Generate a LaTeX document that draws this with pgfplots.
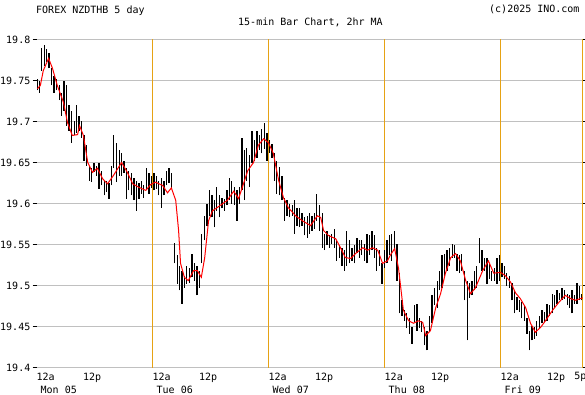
\documentclass[border=0pt]{standalone}
\usepackage{pgfplots}
\pgfplotsset{compat=1.18}
\usepackage{pgfplotstable}
\usepackage{fontspec}
\setmainfont{DejaVu Sans Mono}
\definecolor{gridgray}{RGB}{192,192,192}
\definecolor{dayorange}{RGB}{230,162,20}
\definecolor{mared}{RGB}{255,0,0}

\pgfplotstableread{
h lo hi
0.2 19.738 19.752
0.6 19.735 19.750
1.1 19.762 19.790
1.7 19.768 19.793
2.1 19.772 19.788
2.6 19.765 19.784
3.1 19.744 19.765
3.6 19.735 19.756
4.1 19.738 19.752
4.7 19.726 19.744
5.2 19.707 19.735
5.7 19.713 19.750
6.2 19.695 19.744
6.7 19.689 19.720
7.2 19.674 19.713
7.8 19.683 19.701
8.3 19.686 19.720
8.8 19.689 19.707
9.3 19.680 19.701
9.8 19.652 19.683
10.3 19.646 19.671
10.9 19.628 19.646
11.4 19.626 19.643
11.9 19.638 19.650
12.4 19.634 19.646
12.9 19.618 19.650
13.4 19.622 19.640
14.0 19.610 19.628
14.5 19.614 19.628
15.0 19.606 19.625
15.5 19.622 19.646
16.0 19.643 19.683
16.6 19.626 19.674
17.1 19.634 19.665
17.6 19.634 19.662
18.1 19.637 19.652
18.6 19.606 19.643
19.1 19.616 19.640
19.7 19.610 19.637
20.2 19.604 19.631
20.7 19.591 19.628
21.2 19.606 19.625
21.7 19.612 19.628
22.2 19.607 19.622
22.8 19.616 19.643
23.3 19.612 19.637
23.8 19.619 19.634
24.3 19.616 19.637
24.8 19.618 19.633
25.3 19.610 19.628
25.9 19.595 19.631
26.4 19.610 19.628
26.9 19.622 19.640
27.4 19.625 19.643
27.9 19.619 19.637
28.6 19.527 19.552
29.1 19.502 19.537
29.6 19.494 19.524
30.1 19.478 19.518
30.6 19.497 19.512
31.1 19.502 19.524
31.7 19.503 19.521
32.2 19.510 19.539
32.7 19.506 19.528
33.2 19.488 19.524
33.7 19.497 19.518
34.2 19.527 19.563
34.8 19.555 19.585
35.3 19.573 19.600
35.8 19.585 19.616
36.3 19.583 19.610
36.8 19.571 19.604
37.3 19.591 19.620
37.9 19.583 19.610
38.4 19.594 19.607
38.9 19.591 19.606
39.4 19.598 19.616
39.9 19.604 19.631
40.4 19.600 19.628
40.9 19.598 19.620
41.5 19.579 19.616
42.0 19.600 19.620
42.5 19.616 19.680
43.0 19.604 19.665
43.5 19.628 19.668
44.0 19.620 19.659
44.6 19.649 19.689
45.1 19.652 19.677
45.6 19.656 19.689
46.1 19.665 19.683
46.6 19.661 19.691
47.2 19.667 19.698
47.7 19.652 19.686
48.2 19.662 19.677
48.7 19.656 19.673
49.2 19.628 19.661
49.7 19.612 19.652
50.3 19.610 19.644
50.8 19.604 19.634
51.3 19.579 19.607
51.8 19.585 19.604
52.3 19.583 19.600
52.9 19.585 19.598
53.4 19.563 19.604
53.9 19.573 19.595
54.4 19.571 19.595
54.9 19.573 19.589
55.4 19.561 19.583
56.0 19.558 19.585
56.5 19.563 19.588
57.0 19.567 19.585
57.5 19.569 19.588
58.0 19.579 19.612
58.5 19.567 19.598
59.1 19.546 19.588
59.6 19.543 19.563
60.1 19.549 19.567
60.6 19.546 19.561
61.1 19.551 19.563
61.6 19.546 19.569
62.1 19.530 19.555
62.7 19.534 19.549
63.2 19.524 19.546
63.7 19.518 19.543
64.2 19.524 19.567
64.8 19.527 19.555
65.3 19.530 19.546
65.8 19.527 19.549
66.3 19.540 19.558
66.8 19.534 19.555
67.3 19.537 19.555
67.9 19.530 19.551
68.4 19.527 19.563
68.9 19.537 19.561
69.4 19.543 19.567
69.9 19.534 19.561
70.4 19.518 19.546
70.9 19.524 19.543
71.5 19.502 19.527
72.0 19.521 19.543
72.5 19.527 19.555
73.0 19.537 19.561
73.5 19.530 19.563
74.0 19.543 19.567
74.6 19.506 19.551
75.1 19.466 19.515
75.6 19.463 19.482
76.1 19.457 19.470
76.6 19.448 19.466
77.1 19.441 19.460
77.7 19.429 19.449
78.2 19.455 19.476
78.7 19.445 19.478
79.2 19.448 19.460
79.7 19.443 19.457
80.3 19.427 19.449
80.8 19.421 19.445
81.3 19.445 19.463
81.8 19.454 19.488
82.3 19.476 19.497
82.9 19.473 19.506
83.4 19.494 19.518
83.9 19.497 19.537
84.4 19.512 19.539
84.9 19.518 19.543
85.4 19.524 19.546
86.0 19.534 19.551
86.5 19.534 19.549
87.0 19.518 19.539
87.5 19.515 19.537
88.0 19.518 19.539
88.6 19.482 19.518
89.1 19.433 19.506
89.6 19.485 19.503
90.1 19.488 19.506
90.6 19.494 19.518
91.1 19.497 19.524
91.7 19.527 19.558
92.2 19.518 19.543
92.7 19.518 19.534
93.2 19.502 19.534
93.7 19.508 19.527
94.2 19.506 19.518
94.8 19.506 19.521
95.3 19.502 19.534
95.8 19.506 19.537
96.3 19.510 19.527
96.8 19.508 19.524
97.3 19.500 19.515
97.9 19.497 19.512
98.4 19.482 19.503
98.9 19.466 19.494
99.4 19.470 19.486
99.9 19.468 19.482
100.4 19.460 19.480
101.0 19.457 19.476
101.5 19.441 19.460
102.0 19.421 19.445
102.5 19.433 19.451
103.0 19.435 19.449
103.5 19.439 19.457
104.1 19.448 19.463
104.6 19.454 19.470
105.1 19.455 19.468
105.6 19.457 19.478
106.1 19.463 19.476
106.7 19.466 19.490
107.2 19.472 19.488
107.7 19.478 19.494
108.2 19.482 19.491
108.7 19.482 19.497
109.2 19.484 19.494
109.8 19.476 19.490
110.3 19.473 19.488
110.8 19.466 19.494
111.3 19.478 19.488
111.8 19.478 19.503
112.3 19.482 19.500
112.8 19.482 19.490
}\bars

\pgfplotstableread{
h v
0.2 19.740
0.8 19.744
1.4 19.762
2.5 19.777
3.3 19.765
4.3 19.744
5.6 19.723
6.4 19.699
7.4 19.683
8.5 19.684
8.9 19.695
9.7 19.683
10.6 19.650
11.6 19.638
12.6 19.643
13.7 19.630
14.7 19.624
15.9 19.634
17.6 19.650
18.8 19.638
19.9 19.624
21.1 19.620
22.6 19.616
23.6 19.623
24.6 19.626
26.1 19.622
27.1 19.613
27.9 19.619
28.8 19.604
29.4 19.567
29.8 19.527
30.6 19.510
31.4 19.506
32.5 19.518
33.3 19.518
34.1 19.510
34.8 19.534
35.6 19.579
36.4 19.591
38.1 19.598
39.5 19.604
40.8 19.615
41.8 19.606
42.6 19.620
43.7 19.640
44.9 19.650
45.9 19.671
47.0 19.679
48.0 19.674
49.0 19.661
50.1 19.628
51.1 19.607
52.1 19.595
53.6 19.585
55.0 19.579
56.7 19.573
58.1 19.585
58.8 19.583
59.4 19.567
60.4 19.561
61.9 19.557
62.9 19.546
63.9 19.534
65.0 19.533
66.0 19.539
67.5 19.546
68.5 19.543
69.5 19.546
70.6 19.543
71.6 19.527
72.6 19.530
73.2 19.537
74.1 19.545
74.9 19.521
75.9 19.470
77.0 19.457
78.0 19.454
79.0 19.457
79.9 19.455
80.5 19.439
81.5 19.445
82.6 19.473
83.6 19.490
84.6 19.515
85.7 19.534
86.7 19.539
87.7 19.530
88.8 19.506
89.8 19.490
90.8 19.497
92.3 19.518
93.5 19.530
94.6 19.515
96.0 19.516
97.0 19.512
98.1 19.504
99.1 19.491
100.1 19.484
101.2 19.473
102.2 19.454
103.2 19.443
104.3 19.449
105.3 19.457
106.8 19.470
108.0 19.479
109.4 19.488
110.5 19.484
111.5 19.482
113.0 19.485
}\ma

\begin{document}
\fontsize{10bp}{13bp}\selectfont
\begin{tikzpicture}[x=1bp,y=1bp]
\path[use as bounding box] (0,0) rectangle (585,394);
\begin{axis}[
  at={(36.5bp,26.5bp)}, anchor=south west,
  scale only axis, width=546.17bp, height=328bp,
  xmin=0, xmax=113, ymin=19.4, ymax=19.8,
  axis line style={draw=none},
  clip=false,
  /pgf/number format/assume math mode=true,
  ytick={19.4,19.45,19.5,19.55,19.6,19.65,19.7,19.75,19.8},
  yticklabels={19.4,19.45,19.5,19.55,19.6,19.65,19.7,19.75,19.8},
  ytick pos=both, yticklabel pos=left,
  ymajorgrids, xmajorgrids=false,
  major grid style={draw=gridgray, line width=1bp},
  tick align=outside, major tick length=4bp,
  ytick style={black, line width=0.8bp},
  yticklabel style={anchor=east, inner sep=0pt, xshift=-2bp},
  xtick={0,12,24,36,48,60,72,84,96,108,113},
  xticklabels={
    {12a\\\hspace{4bp}Mon 05},
    {\makebox[0pt]{12p\hspace{6bp}}},
    {12a\\\hspace{4bp}Tue 06},
    {\makebox[0pt]{12p\hspace{6bp}}},
    {12a\\\hspace{4bp}Wed 07},
    {\makebox[0pt]{12p\hspace{6bp}}},
    {12a\\\hspace{4bp}Thu 08},
    {\makebox[0pt]{12p\hspace{6bp}}},
    {12a\\\hspace{4bp}Fri 09},
    {\makebox[0pt]{12p\hspace{6bp}}},
    {\makebox[0pt]{5p\hspace{6bp}}}},
  xtick style={draw=none},
  xticklabel style={anchor=north west, align=left, inner sep=0pt, yshift=-1bp},
]
\pgfplotsinvokeforeach{24,48,72,96,113}{
  \draw[dayorange, line width=1bp] (axis cs:#1,19.4) -- (axis cs:#1,19.8);
}
\addplot[black, line width=1.3bp, quiver={u=0, v=\thisrow{hi}-\thisrow{lo}}] table[x=h, y=lo] {\bars};
\addplot[mared, line width=1bp, mark=none] table[x=h, y=v] {\ma};
\end{axis}
\node[anchor=base west, inner sep=0pt] at (36,380.5) {FOREX NZDTHB 5 day};
\node[anchor=base west, inner sep=0pt] at (238,369) {15-min Bar Chart, 2hr MA};
\node[anchor=base west, inner sep=0pt] at (489,381.5) {(c)2025 INO.com};
\end{tikzpicture}
\end{document}
